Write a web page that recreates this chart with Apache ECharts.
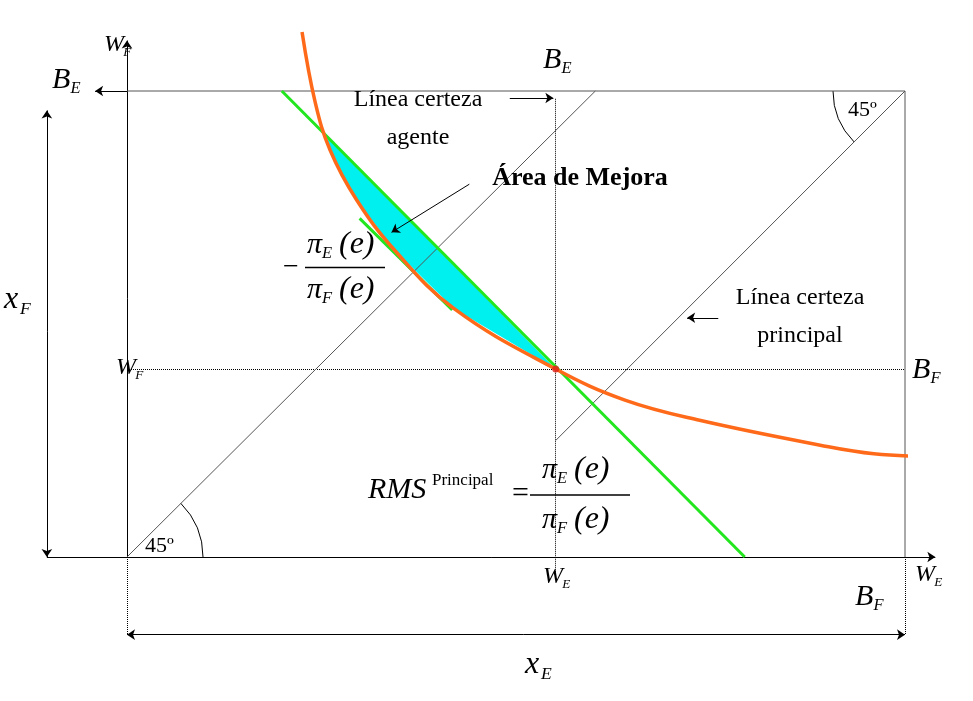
<!DOCTYPE html>
<html><head><meta charset="utf-8">
<script src="https://cdn.jsdelivr.net/npm/echarts@6/dist/echarts.min.js"></script>
<style>html,body{margin:0;background:#fff}#c{width:973px;height:701px}</style>
</head><body><div id="c"></div>
<script>
// box in model units: W_E 0..10, W_F 0..6
var endow = [5.51, 2.42];
var curve = [[2.25,6.76],[2.42,5.85],[2.61,5.24],[2.95,4.6],[3.44,3.95],[4.2,3.2],[5.51,2.42],[6.4,2.02],[7.36,1.76],[8.91,1.44],[9.6,1.33],[10.51,1.29]];
var greenLine = [[1.99,6],[7.94,0]];
var tangent = [[2.99,4.36],[4.18,3.18]];
var area = [[2.52,5.47],[2.61,5.24],[2.95,4.6],[3.44,3.95],[4.2,3.2],[5.51,2.42],[2.52,5.47]];
var agentLine = [[0,0],[6.02,6]];
var principalLine = [[10,6],[5.51,1.5]];
var box = [[0,6],[10,6],[10,0]];
var arrows = [
  [[0,0],[0,6.65]],      // W_F axis
  [[-1.03,0],[10.39,0]], // W_E axis
  [[0,6],[-0.41,6]],     // B_E arrow
  [[-1.03,2.9],[-1.03,5.75]], [[-1.03,2.9],[-1.03,0]],
  [[5.1,-1.0],[10,-1.0]], [[5.1,-1.0],[0,-1.0]]
];
var dotted = [
  [[5.51,5.9],[5.51,-0.3]], [[0,2.42],[10,2.42]],
  [[0,0],[0,-1.0]], [[10,0],[10,-1.0]]
];

var chart = echarts.init(document.getElementById('c'));
var serif = 'Liberation Serif';
function txt(x,y,s,size,opt){
  opt = opt || {};
  return {type:'text',x:x,y:y,z:10,style:{text:s,fontFamily:serif,fontSize:size,fill:'#000',
    fontStyle:opt.it?'italic':'normal',fontWeight:opt.b?'bold':'normal',align:opt.al||'left',verticalAlign:'middle'}};
}
function sym(x,y,main,sub,size,k){
  return [txt(x,y,main,size,{it:1}), txt(x+size*(k||0.62),y+size*0.3,sub,size*0.55,{it:1})];
}
function frac(cx,y1,y2,w){
  return [].concat(sym(cx-38,y1,'π','E',30,0.5),[txt(cx-6,y1,'(e)',32,{it:1})],
    sym(cx-38,y2,'π','F',30,0.5),[txt(cx-6,y2,'(e)',32,{it:1})],
    [{type:'line',z:10,shape:{x1:cx-w/2,y1:(y1+y2)/2,x2:cx+w/2,y2:(y1+y2)/2},style:{stroke:'#000',lineWidth:1.5}}]);
}
var g = [].concat(
  sym(104,45,'W','F',24,0.8), sym(52,80,'B','E',30), sym(543,60,'B','E',30),
  [txt(418,100,'Línea certeza',24,{al:'center'}), txt(418,138,'agente',24,{al:'center'}),
   txt(580,178,'Área de Mejora',26,{b:1,al:'center'}),
   txt(800,298,'Línea certeza',24,{al:'center'}), txt(800,336,'principal',24,{al:'center'}),
   txt(848,110,'45º',22), txt(145,546,'45º',22),
   txt(283,268,'−',28), txt(368,490,'RMS',30,{it:1}), txt(432,481,'Principal',17), txt(512,494,'=',30)],
  frac(345,245,290,80), frac(580,470,520,100),
  sym(116,368,'W','F',24,0.8), sym(912,370,'B','F',30), sym(4,300,'x','F',32,0.5),
  sym(543,577,'W','E',24,0.8), sym(855,597,'B','F',30), sym(915,575,'W','E',24,0.8), sym(525,665,'x','E',32,0.5),
  [{type:'arc',shape:{cx:127,cy:557,r:76,startAngle:-Math.PI/4,endAngle:0},style:{stroke:'#000',fill:null,lineWidth:1}},
   {type:'arc',shape:{cx:905,cy:91,r:72,startAngle:Math.PI*0.75,endAngle:Math.PI},style:{stroke:'#000',fill:null,lineWidth:1}}]
);

function lineS(data,color,w,type,z){
  return {type:'line',data:data,showSymbol:false,clip:false,silent:true,z:z||2,
    lineStyle:{color:color,width:w,type:type||'solid'}};
}
var series = [
  {type:'line',data:area,showSymbol:false,clip:false,z:1,lineStyle:{width:0},areaStyle:{color:'#00f0f0',opacity:1,origin:'auto'}},
  lineS(box,'#555',1), lineS(agentLine,'#555',1), lineS(principalLine,'#555',1),
  lineS(greenLine,'#22e61e',3,'solid',4), lineS(tangent,'#22e61e',3,'solid',4),
  Object.assign(lineS(curve,'#ff6a1a',3.5,'solid',5),{smooth:0.4}),
  {type:'lines',coordinateSystem:'cartesian2d',clip:false,symbol:['none','arrow'],symbolSize:8,silent:true,
    lineStyle:{color:'#000',width:1,opacity:1},data:arrows.map(function(a){return {coords:a};})},
  {type:'lines',coordinateSystem:'cartesian2d',clip:false,silent:true,
    lineStyle:{color:'#000',width:1,type:'dotted',opacity:1},data:dotted.map(function(a){return {coords:a};})},
  {type:'lines',coordinateSystem:'cartesian2d',clip:false,symbol:['none','arrow'],symbolSize:8,silent:true,z:6,
    lineStyle:{color:'#000',width:1,opacity:1},
    data:[{coords:[[4.92,5.91],[5.48,5.91]]},{coords:[[4.4,4.8],[3.4,4.18]]},{coords:[[7.6,3.08],[7.2,3.08]]}]},
  {type:'scatter',data:[endow],symbolSize:7,itemStyle:{color:'#e0201a'},z:7}
];
chart.setOption({
  animation:false,
  grid:{left:127,top:91,width:778,height:466},
  xAxis:{type:'value',min:0,max:10,show:false},
  yAxis:{type:'value',min:0,max:6,show:false},
  series:series,
  graphic:g
});
</script></body></html>
